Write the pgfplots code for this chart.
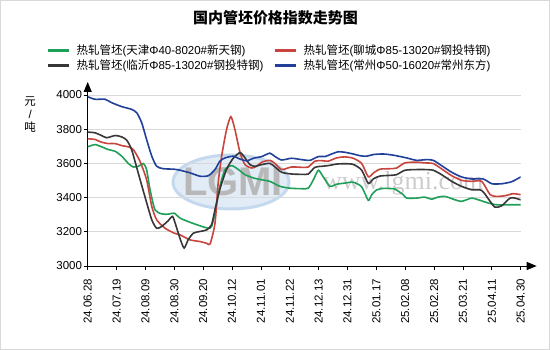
\documentclass[border=0pt]{standalone}
\usepackage{fontspec}
\setmainfont{Liberation Sans}
\newfontfamily\cjk{Noto Sans CJK SC}
\newfontfamily\wmserif{Liberation Serif}
\usepackage{pgfplots}
\pgfplotsset{compat=1.18}
\usetikzlibrary{arrows.meta}
\definecolor{cgreen}{RGB}{31,160,88}
\definecolor{cred}{RGB}{200,68,60}
\definecolor{cblack}{RGB}{55,55,55}
\definecolor{cblue}{RGB}{32,64,154}
\newcommand{\zh}[1]{{\cjk #1}}
\begin{document}
\begin{tikzpicture}
\useasboundingbox (0pt,0pt) rectangle (550pt,-350pt);
\draw[line width=1pt, black!15] (0.5pt,-0.5pt) rectangle (549.5pt,-349.5pt);
\node[font=\cjk\bfseries\fontsize{15}{15}\selectfont] at (275.5pt,-17.5pt) {国内管坯价格指数走势图};
% watermark
\fill[color={rgb,255:red,226;green,236;blue,247}] (231pt,-182pt) ellipse [x radius=58pt, y radius=27pt];
\draw[line width=3pt, color={rgb,255:red,196;green,216;blue,238}] (231pt,-182pt) ellipse [x radius=58pt, y radius=27pt];
\node[font=\bfseries\fontsize{40}{40}\selectfont, text=black!28] at (233pt,-182pt) {LGMI};
\node[font=\wmserif\fontsize{26}{26}\selectfont, text=black!20, anchor=base west, inner sep=0pt] at (323pt,-190pt) {www.lgmi.com};
\begin{axis}[
  at={(87.7pt,-266pt)}, anchor=south west,
  scale only axis, width=433pt, height=171pt,
  xmin=0, xmax=15, ymin=3000, ymax=4000,
  enlargelimits=false,
  axis lines=left,
  x axis line style={line width=0.9pt, -{Triangle[length=10pt,width=8pt]}, shorten >=-16pt},
  y axis line style={line width=0.9pt, -{Triangle[length=10pt,width=8pt]}, shorten >=-13pt},
  xtick={0,...,15},
  xticklabels={24.06.28,24.07.19,24.08.09,24.08.30,24.09.20,24.10.12,24.11.01,24.11.22,24.12.13,24.12.31,25.01.17,25.02.08,25.02.28,25.03.21,25.04.11,25.04.30},
  ytick={3000,3200,3400,3600,3800,4000},
  tick align=outside,
  major tick length=4pt,
  tick style={black, line width=0.8pt},
  ymajorgrids,
  grid style={line width=0.9pt, black!15},
  /pgf/number format/assume math mode=true,
  /pgf/number format/1000 sep={},
  ticklabel style={font=\fontsize{11.5}{12}\selectfont, text=black},
  xticklabel style={rotate=90, anchor=east, inner xsep=9pt},
  yticklabel style={inner xsep=1.5pt},
  ylabel={\zh{元}\\/\\\zh{吨}},
  ylabel style={rotate=-90, at={(axis description cs:-0.133,1.01)}, anchor=north, align=center, font=\fontsize{11.5}{13}\selectfont},
  legend columns=2,
  legend cell align=left,
  legend style={at={(axis description cs:-0.0963,1.305)}, anchor=north west, draw=none, fill=none, inner sep=0pt, font=\fontsize{11.5}{13}\selectfont, row sep=-0.5pt, /tikz/every even column/.append style={column sep=8pt}},
  legend image code/.code={\draw[#1, line width=3pt] (0pt,0pt) -- (21pt,0pt); \path (26pt,0pt);},
  every axis plot/.append style={line width=1.6pt, smooth, tension=0.4},
]
\addplot[cgreen] coordinates {
(0,3697) (0.25,3710) (0.48,3697) (0.71,3681) (0.95,3671) (1.18,3642) (1.41,3599) (1.58,3579) (1.75,3583) (1.93,3599) (2.04,3564) (2.16,3446) (2.33,3329) (2.56,3305) (2.79,3303) (3.0,3309) (3.20,3280) (3.54,3256) (3.89,3235) (4.18,3221) (4.29,3231) (4.41,3309) (4.58,3466) (4.76,3564) (4.99,3587) (5.22,3564) (5.45,3534) (5.74,3515) (6.0,3505) (6.31,3495) (6.66,3466) (7.01,3455) (7.41,3452) (7.64,3455) (7.82,3505) (7.99,3560) (8.16,3521) (8.39,3466) (8.62,3478) (8.91,3485) (9.2,3490) (9.49,3463) (9.72,3384) (9.84,3417) (10.01,3445) (10.24,3454) (10.47,3453) (10.64,3450) (10.93,3417) (11.05,3397) (11.39,3397) (11.68,3403) (11.91,3391) (12.14,3403) (12.38,3407) (12.66,3391) (12.95,3378) (13.30,3397) (13.59,3384) (13.88,3368) (14.17,3358) (14.57,3358) (15,3358)
};
\addlegendentry{\zh{热轧管坯}(\zh{天津}Φ40-8020\#\zh{新天钢})}
\addplot[cred] coordinates {
(0,3744) (0.25,3740) (0.48,3724) (0.71,3716) (0.95,3716) (1.18,3704) (1.41,3697) (1.58,3681) (1.81,3613) (2.04,3505) (2.22,3348) (2.39,3270) (2.68,3221) (3.0,3192) (3.20,3182) (3.54,3153) (3.89,3143) (4.12,3133) (4.24,3129) (4.41,3250) (4.52,3485) (4.64,3642) (4.81,3798) (4.96,3873) (5.10,3798) (5.28,3661) (5.45,3593) (5.68,3573) (5.85,3583) (6.03,3607) (6.31,3618) (6.49,3599) (6.72,3564) (7.06,3579) (7.41,3577) (7.64,3579) (7.87,3613) (8.10,3616) (8.33,3613) (8.62,3632) (8.91,3638) (9.2,3630) (9.49,3600) (9.72,3522) (9.90,3544) (10.12,3566) (10.47,3569) (10.70,3573) (10.99,3603) (11.39,3607) (11.68,3603) (11.97,3599) (12.26,3568) (12.61,3528) (12.95,3501) (13.30,3495) (13.65,3495) (13.94,3417) (14.17,3407) (14.46,3411) (14.74,3423) (15,3417)
};
\addlegendentry{\zh{热轧管坯}(\zh{聊城}Φ85-13020\#\zh{钢投特钢})}
\addplot[cblack] coordinates {
(0,3783) (0.25,3779) (0.48,3763) (0.66,3750) (0.95,3763) (1.18,3755) (1.35,3736) (1.52,3681) (1.75,3544) (1.98,3407) (2.22,3270) (2.39,3221) (2.56,3231) (2.79,3265) (2.94,3290) (3.05,3240) (3.20,3160) (3.34,3105) (3.48,3153) (3.66,3192) (3.89,3202) (4.12,3211) (4.29,3241) (4.41,3330) (4.58,3450) (4.81,3565) (5.04,3630) (5.28,3663) (5.45,3632) (5.62,3593) (5.79,3583) (6.03,3593) (6.31,3600) (6.49,3579) (6.72,3548) (7.06,3538) (7.41,3536) (7.64,3538) (7.87,3577) (8.10,3583) (8.33,3587) (8.62,3596) (8.91,3598) (9.2,3594) (9.49,3561) (9.72,3483) (9.90,3510) (10.12,3526) (10.47,3530) (10.70,3534) (10.99,3560) (11.39,3564) (11.68,3564) (11.97,3560) (12.26,3534) (12.61,3495) (12.95,3466) (13.30,3446) (13.65,3442) (13.94,3378) (14.11,3344) (14.34,3352) (14.63,3397) (14.80,3397) (15,3387)
};
\addlegendentry{\zh{热轧管坯}(\zh{临沂}Φ85-13020\#\zh{钢投特钢})}
\addplot[cblue] coordinates {
(0,3990) (0.25,3975) (0.6,3975) (0.83,3955) (1.18,3932) (1.52,3916) (1.70,3896) (1.87,3838) (2.04,3740) (2.22,3642) (2.39,3583) (2.62,3569) (3.0,3566) (3.20,3560) (3.54,3545) (3.89,3525) (4.18,3528) (4.41,3564) (4.58,3613) (4.76,3632) (5.04,3642) (5.28,3625) (5.51,3615) (5.74,3630) (6.03,3640) (6.31,3660) (6.49,3640) (6.72,3620) (7.06,3630) (7.41,3622) (7.70,3618) (7.99,3640) (8.22,3640) (8.45,3655) (8.68,3668) (8.91,3665) (9.2,3655) (9.43,3645) (9.66,3642) (9.90,3652) (10.24,3655) (10.59,3648) (11.05,3632) (11.39,3618) (11.74,3622) (11.97,3618) (12.26,3587) (12.61,3548) (12.95,3521) (13.30,3509) (13.70,3509) (14.0,3481) (14.34,3481) (14.69,3493) (15,3521)
};
\addlegendentry{\zh{热轧管坯}(\zh{常州}Φ50-16020\#\zh{常州东方})}
\end{axis}
\end{tikzpicture}
\end{document}
